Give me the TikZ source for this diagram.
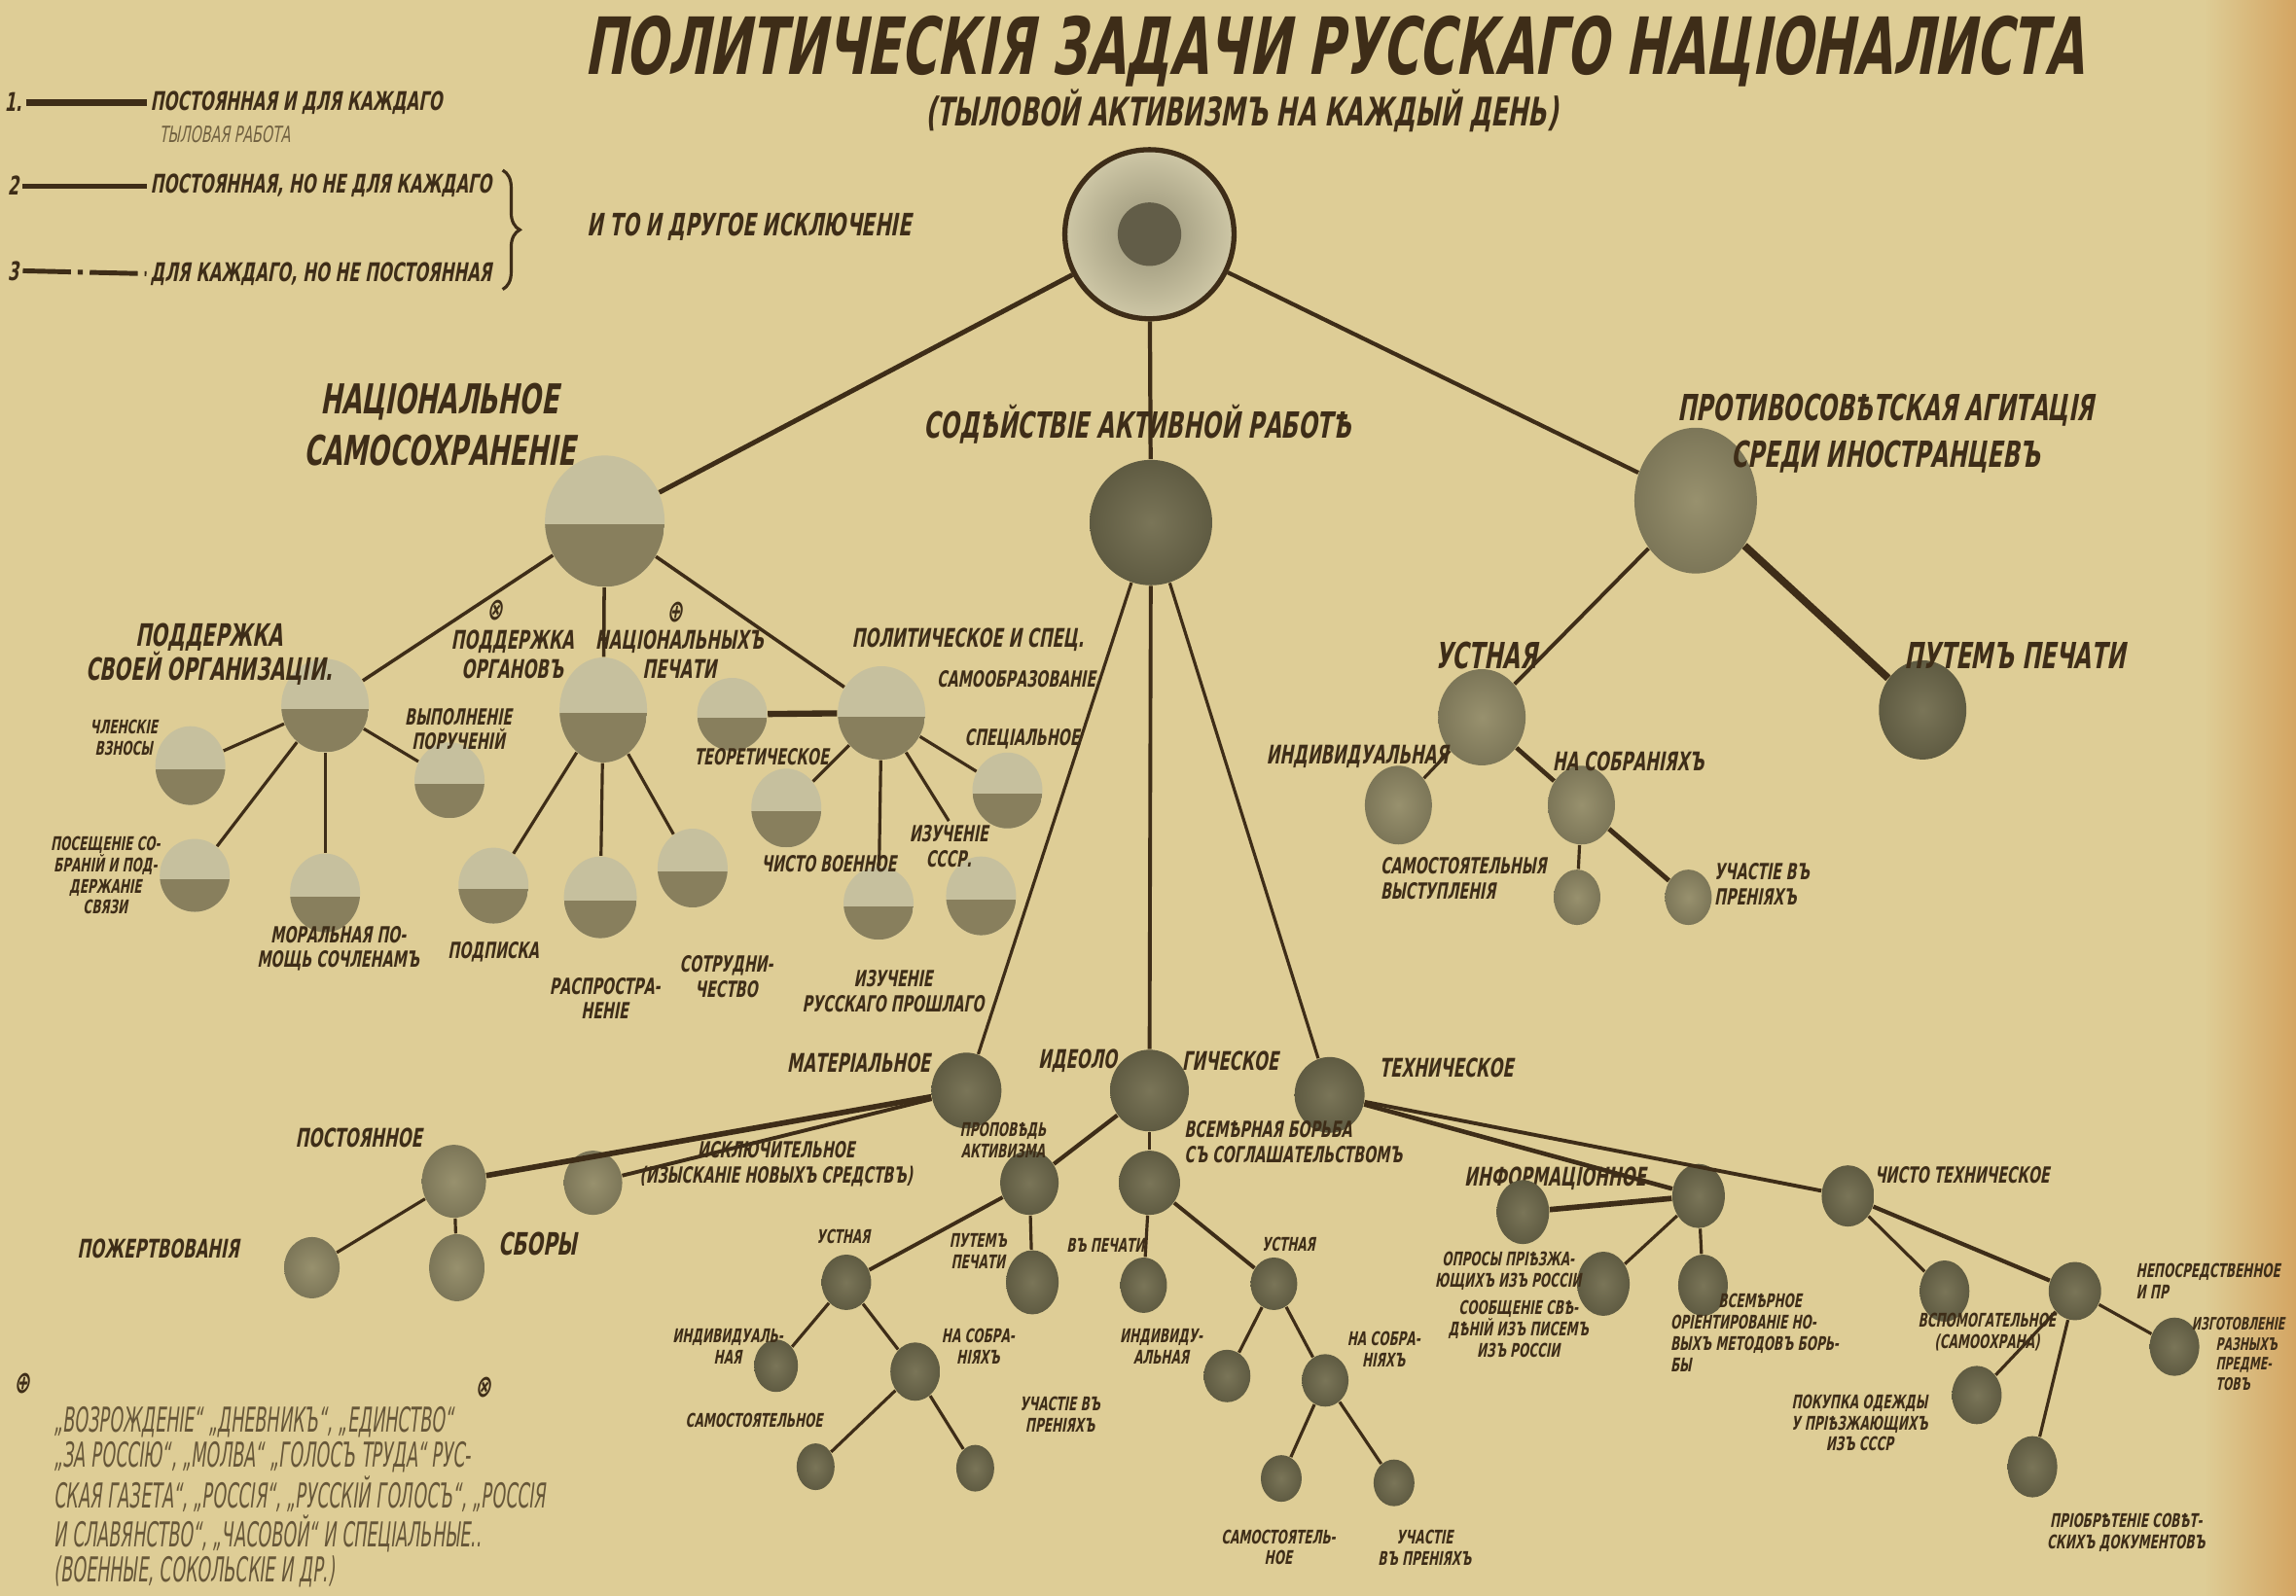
\documentclass[tikz,border=0pt]{standalone}
\usepackage{fontspec}
\setmainfont{DejaVu Sans}
\newfontfamily\handfont{DejaVu Sans}[FakeStretch=0.62, FakeSlant=0.18]
\newfontfamily\ttlfont{DejaVu Sans}[FakeStretch=0.63, FakeSlant=0.18]
\newfontfamily\fnfont{DejaVu Sans}[FakeStretch=0.5, FakeSlant=0.12]
\usepackage{tikz}
\usetikzlibrary{shapes,arrows,positioning,calc,decorations.pathreplacing}
\definecolor{paper}{RGB}{222,205,150}
\definecolor{paperedge}{RGB}{212,165,98}
\definecolor{ink}{RGB}{62,45,24}
\definecolor{inklight}{RGB}{112,96,64}
\definecolor{ballin}{RGB}{122,117,88}
\definecolor{ballout}{RGB}{95,91,66}
\definecolor{palein}{RGB}{152,145,110}
\definecolor{paleout}{RGB}{124,118,88}
\definecolor{halflight}{RGB}{198,192,158}
\definecolor{halfdark}{RGB}{136,127,93}
\definecolor{rootin}{RGB}{150,145,118}
\definecolor{rootout}{RGB}{206,199,166}
\definecolor{corecol}{RGB}{98,93,72}
\tikzset{
    lbl/.style={inner sep=1pt, text=ink, align=center},
    fT/.style={font=\ttlfont\bfseries\fontsize{23}{25}\selectfont},
    fSub/.style={font=\handfont\bfseries\fontsize{11.5}{12.5}\selectfont},
    fA/.style={font=\handfont\bfseries\fontsize{12}{15}\selectfont},
    fB/.style={font=\handfont\bfseries\fontsize{10.5}{13.5}\selectfont},
    fC/.style={font=\handfont\bfseries\fontsize{9}{10}\selectfont},
    fD/.style={font=\handfont\bfseries\fontsize{7.5}{8.5}\selectfont},
    fE/.style={font=\handfont\bfseries\fontsize{6.5}{7.3}\selectfont},
    fF/.style={font=\handfont\bfseries\fontsize{5.5}{6.2}\selectfont},
    fN/.style={font=\fnfont\fontsize{10}{10.2}\selectfont},
    sz/.style 2 args={ellipse, inner sep=0pt, minimum width=#1*0.85pt, minimum height=#2*0.85pt},
    solidball/.style={shading=radial, inner color=ballin, outer color=ballout},
    paleball/.style={shading=radial, inner color=palein, outer color=paleout},
    halfball/.style={fill=halflight,
        path picture={\fill[halfdark] ([yshift=-1pt]path picture bounding box.west) rectangle (path picture bounding box.south east);}},
    link/.style={draw=ink, line width=#1},
    link/.default=0.9pt
}

\begin{document}
\begin{tikzpicture}[x=0.015cm, y=-0.015cm, node distance=0.2cm]
\useasboundingbox (0,0) rectangle (1568,1090);
\fill[paper] (0,0) rectangle (1568,1090);
\shade[left color=paper, right color=paperedge] (1505,0) rectangle (1568,1090);

% Title
\node[lbl, fT, inner sep=0pt] (title) at (911,35) {ПОЛИТИЧЕСКІЯ ЗАДАЧИ РУССКАГО НАЦІОНАЛИСТА};
\node[lbl, fSub, inner sep=0pt] (subtitle) at (848,76) {(ТЫЛОВОЙ АКТИВИЗМЪ НА КАЖДЫЙ ДЕНЬ)};

% Legend
\node[lbl, fD] (n1) at (9,70) {1.};
\node[lbl, fD, anchor=west] (t1) at (100,70) {ПОСТОЯННАЯ И ДЛЯ КАЖДАГО};
\node[lbl, fD, anchor=west, text=inklight, font=\handfont\fontsize{6.5}{7}\selectfont] (t1b) at (106,92) {ТЫЛОВАЯ РАБОТА};
\node[lbl, fD] (n2) at (9,127) {2};
\node[lbl, fD, anchor=west] (t2) at (100,127) {ПОСТОЯННАЯ, НО НЕ ДЛЯ КАЖДАГО};
\node[lbl, fD] (n3) at (9,185) {3};
\node[lbl, fD, anchor=west] (t3) at (100,187) {ДЛЯ КАЖДАГО, НО НЕ ПОСТОЯННАЯ};
\node[lbl, fC, anchor=west] (t23) at (398,155) {И ТО И ДРУГОЕ ИСКЛЮЧЕНІЕ};
\draw[link=2pt] (n1.east) -- (t1.west);
\draw[link=1.4pt] (n2.east) -- (t2.west);
\draw[link=1.4pt, dash pattern=on 14pt off 2pt on 1.5pt off 2pt] (n3.east) -- (t3.west);
\draw[ink, line width=0.9pt, decorate, decoration={brace, amplitude=5pt}]
    ([xshift=2pt]t3.east |- t2.north) -- ([xshift=2pt]t3.south east);

% Root
\node[circle, draw=ink, line width=1.5pt, minimum size=49.3pt, inner sep=0pt,
      shading=radial, inner color=rootin, outer color=rootout] (root) at (785,160) {};
\node[circle, inner sep=0pt, minimum size=18.5pt, fill=corecol] (core) at (root) {};

% Level 1
\node[halfball, sz={41}{45}] (nat) at (413,356) {};
\node[solidball, sz={42}{43}] (sod) at (786,357) {};
\node[paleball, sz={42}{50}] (anti) at (1158,342) {};
\node[lbl, fA] (lnat) at (300,290) {НАЦІОНАЛЬНОЕ\\САМОСОХРАНЕНІЕ};
\node[lbl, fB] (lsod) at (777,290) {СОДѢЙСТВІЕ АКТИВНОЙ РАБОТѢ};
\node[lbl, fB] (lanti) at (1288,296) {ПРОТИВОСОВѢТСКАЯ АГИТАЦІЯ\\СРЕДИ ИНОСТРАНЦЕВЪ};

% Национальное самосохраненie
\node[halfball, sz={30}{32}] (podd) at (222,482) {};
\node[halfball, sz={30}{36}] (org) at (412,485) {};
\node[halfball, sz={30}{32}] (pol) at (602,487) {};
\node[lbl, fC] (lpodd) at (143,447) {ПОДДЕРЖКА\\СВОЕЙ ОРГАНИЗАЦІИ.};
\node[lbl, fD] (lorga) at (350,447) {ПОДДЕРЖКА\\ОРГАНОВЪ};
\node[lbl, fD] (lorgb) at (464,447) {НАЦІОНАЛЬНЫХЪ\\ПЕЧАТИ};
\node[lbl, fC] (marka) at (338,417) {⊗};
\node[lbl, fC] (markb) at (461,418) {⊕};
\node[lbl, fD] (lpol) at (661,437) {ПОЛИТИЧЕСКОЕ И СПЕЦ.};
\node[lbl, fE] (lpolb) at (694,464) {САМООБРАЗОВАНІЕ};

\node[halfball, sz={24}{27}] (chlen) at (130,523) {};
\node[halfball, sz={24}{25}] (poseshch) at (133,598) {};
\node[halfball, sz={24}{27}] (moral) at (222,610) {};
\node[halfball, sz={24}{26}] (vypoln) at (307,533) {};
\node[lbl, fF, left=1pt of chlen.north west] (lchlen) {ЧЛЕНСКІЕ\\ВЗНОСЫ};
\node[lbl, fF] (lposeshch) at (72,598) {ПОСЕЩЕНІЕ СО-\\БРАНІЙ И ПОД-\\ДЕРЖАНІЕ\\СВЯЗИ};
\node[lbl, fE] (lmoral) at (231,648) {МОРАЛЬНАЯ ПО-\\МОЩЬ СОЧЛЕНАМЪ};
\node[lbl, fE] (lvypoln) at (313,498) {ВЫПОЛНЕНІЕ\\ПОРУЧЕНІЙ};

\node[halfball, sz={24}{26}] (podpiska) at (337,605) {};
\node[halfball, sz={25}{28}] (rasprostr) at (410,613) {};
\node[halfball, sz={24}{27}] (sotrudn) at (473,593) {};
\node[lbl, fE, below=4pt of podpiska] (lpodpiska) {ПОДПИСКА};
\node[lbl, fE] (lrasprostr) at (413,682) {РАСПРОСТРА-\\НЕНІЕ};
\node[lbl, fE] (lsotrudn) at (496,667) {СОТРУДНИ-\\ЧЕСТВО};

\node[halfball, sz={24}{25}] (teor) at (500,488) {};
\node[halfball, sz={24}{27}] (voen) at (537,552) {};
\node[halfball, sz={24}{25}] (istor) at (600,617) {};
\node[halfball, sz={24}{27}] (sssr) at (670,612) {};
\node[halfball, sz={24}{26}] (spec) at (688,540) {};
\node[lbl, fE] (lteor) at (520,517) {ТЕОРЕТИЧЕСКОЕ};
\node[lbl, fE] (lvoen) at (566,590) {ЧИСТО ВОЕННОЕ};
\node[lbl, fE] (listor) at (610,677) {ИЗУЧЕНІЕ\\РУССКАГО ПРОШЛАГО};
\node[lbl, fE] (lsssr) at (648,578) {ИЗУЧЕНІЕ\\СССР.};
\node[lbl, fE] (lspec) at (698,505) {СПЕЦІАЛЬНОЕ};

% Содействie активной работе
\node[solidball, sz={24}{26}] (mat) at (660,745) {};
\node[solidball, sz={27}{28}] (ideo) at (785,745) {};
\node[solidball, sz={24}{26}] (tech) at (908,748) {};
\node[lbl, fD, left=2pt of mat.north west] (lmat) {МАТЕРІАЛЬНОЕ};
\node[lbl, fD, left=0pt of ideo.north west] (lideoa) {ИДЕОЛО};
\node[lbl, fD, right=0pt of ideo.north east] (lideob) {ГИЧЕСКОЕ};
\node[lbl, fD, right=6pt of tech.north east] (ltech) {ТЕХНИЧЕСКОЕ};

\node[paleball, sz={22}{25}] (post) at (310,807) {};
\node[paleball, sz={20}{22}] (iskl) at (405,808) {};
\node[paleball, sz={19}{21}] (pozh) at (213,866) {};
\node[paleball, sz={19}{23}] (sbory) at (312,866) {};
\node[lbl, fD] (lpost) at (245,777) {ПОСТОЯННОЕ};
\node[lbl, fE] (liskl) at (530,795) {ИСКЛЮЧИТЕЛЬНОЕ\\(ИЗЫСКАНІЕ НОВЫХЪ СРЕДСТВЪ)};
\node[lbl, fD] (lpozh) at (108,853) {ПОЖЕРТВОВАНІЯ};
\node[lbl, fC, right=5pt of sbory.north east] (lsbory) {СБОРЫ};

\node[solidball, sz={20}{22}] (propov) at (703,808) {};
\node[solidball, sz={21}{22}] (vsem) at (785,808) {};
\node[lbl, fF] (lpropov) at (685,779) {ПРОПОВѢДЬ\\АКТИВИЗМА};
\node[lbl, fE, align=left, anchor=west] (lvsem) at (806,780) {ВСЕМѢРНАЯ БОРЬБА\\СЪ СОГЛАШАТЕЛЬСТВОМЪ};

\node[solidball, sz={17}{19}] (usta) at (578,876) {};
\node[solidball, sz={18}{22}] (pecha) at (705,876) {};
\node[solidball, sz={15}{18}] (inda) at (530,933) {};
\node[solidball, sz={17}{20}] (sobra) at (625,937) {};
\node[solidball, sz={13}{16}] (sama) at (557,1002) {};
\node[solidball, sz={13}{16}] (prena) at (666,1003) {};
\node[lbl, fF] (lusta) at (576,845) {УСТНАЯ};
\node[lbl, fF] (lpecha) at (668,855) {ПУТЕМЪ\\ПЕЧАТИ};
\node[lbl, fF] (linda) at (497,920) {ИНДИВИДУАЛЬ-\\НАЯ};
\node[lbl, fF] (lsobra) at (668,920) {НА СОБРА-\\НІЯХЪ};
\node[lbl, fF] (lsama) at (515,970) {САМОСТОЯТЕЛЬНОЕ};
\node[lbl, fF] (lprena) at (724,966) {УЧАСТІЕ ВЪ\\ПРЕНІЯХЪ};

\node[solidball, sz={16}{19}] (vpech) at (781,878) {};
\node[solidball, sz={16}{18}] (ustb) at (870,877) {};
\node[solidball, sz={16}{18}] (indb) at (838,940) {};
\node[solidball, sz={16}{18}] (sobrb) at (905,943) {};
\node[solidball, sz={14}{16}] (samb) at (875,1010) {};
\node[solidball, sz={14}{16}] (prenb) at (952,1013) {};
\node[lbl, fF] (lvpech) at (755,851) {ВЪ ПЕЧАТИ};
\node[lbl, fF] (lustb) at (880,850) {УСТНАЯ};
\node[lbl, fF] (lindb) at (793,920) {ИНДИВИДУ-\\АЛЬНАЯ};
\node[lbl, fF] (lsobrb) at (945,922) {НА СОБРА-\\НІЯХЪ};
\node[lbl, fF] (lsamb) at (873,1057) {САМОСТОЯТЕЛЬ-\\НОЕ};
\node[lbl, fF] (lprenb) at (973,1057) {УЧАСТІЕ\\ВЪ ПРЕНІЯХЪ};

\node[solidball, sz={18}{22}] (inform) at (1160,817) {};
\node[solidball, sz={18}{21}] (chisto) at (1262,817) {};
\node[lbl, fD] (linform) at (1062,805) {ИНФОРМАЦІОННОЕ};
\node[lbl, fE] (lchisto) at (1340,803) {ЧИСТО ТЕХНИЧЕСКОЕ};

\node[solidball, sz={18}{22}] (opros) at (1040,828) {};
\node[solidball, sz={18}{22}] (soobshch) at (1095,877) {};
\node[solidball, sz={17}{21}] (orient) at (1163,878) {};
\node[lbl, fF] (lopros) at (1030,868) {ОПРОСЫ ПРІѢЗЖА-\\ЮЩИХЪ ИЗЪ РОССІИ};
\node[lbl, fF] (lsoobshch) at (1037,908) {СООБЩЕНІЕ СВѢ-\\ДѢНІЙ ИЗЪ ПИСЕМЪ\\ИЗЪ РОССІИ};
\node[lbl, fF, align=left, anchor=north west] (lorient) at (1138,881)
    {\hspace{14pt}ВСЕМѢРНОЕ\\ОРІЕНТИРОВАНІЕ НО-\\ВЫХЪ МЕТОДОВЪ БОРЬ-\\БЫ};

\node[solidball, sz={17}{21}] (vspom) at (1328,882) {};
\node[solidball, sz={18}{20}] (neposr) at (1417,882) {};
\node[solidball, sz={17}{20}] (pokupka) at (1350,953) {};
\node[solidball, sz={17}{21}] (priobr) at (1388,1002) {};
\node[solidball, sz={17}{20}] (izgot) at (1485,920) {};
\node[lbl, fF] (lvspom) at (1357,910) {ВСПОМОГАТЕЛЬНОЕ\\(САМООХРАНА)};
\node[lbl, fF, align=left, anchor=west] (lneposr) at (1456,875) {НЕПОСРЕДСТВЕННОЕ\\И ПР};
\node[lbl, fF] (lpokupka) at (1270,972) {ПОКУПКА ОДЕЖДЫ\\У ПРІѢЗЖАЮЩИХЪ\\ИЗЪ СССР};
\node[lbl, fF] (lpriobr) at (1452,1047) {ПРІОБРѢТЕНІЕ СОВѢТ-\\СКИХЪ ДОКУМЕНТОВЪ};
\node[lbl, fF, align=left, anchor=west, font=\handfont\bfseries\fontsize{5}{5.8}\selectfont] (lizgot) at (1494,925)
    {ИЗГОТОВЛЕНІЕ\\\hspace{7pt}РАЗНЫХЪ\\\hspace{7pt}ПРЕДМЕ-\\\hspace{7pt}ТОВЪ};

% Противосоветская агитацiя
\node[paleball, sz={30}{33}] (ustc) at (1012,490) {};
\node[solidball, sz={30}{34}] (pechc) at (1313,485) {};
\node[paleball, sz={23}{27}] (indc) at (955,550) {};
\node[paleball, sz={23}{27}] (sobrc) at (1080,550) {};
\node[paleball, sz={16}{19}] (samc) at (1077,613) {};
\node[paleball, sz={16}{19}] (prenc) at (1153,613) {};
\node[lbl, fB] (lustc) at (1015,448) {УСТНАЯ};
\node[lbl, fB] (lpechc) at (1376,448) {ПУТЕМЪ ПЕЧАТИ};
\node[lbl, fD] (lindc) at (927,517) {ИНДИВИДУАЛЬНАЯ};
\node[lbl, fD] (lsobrc) at (1112,520) {НА СОБРАНІЯХЪ};
\node[lbl, fE, align=left, anchor=west] (lsamc) at (940,600) {САМОСТОЯТЕЛЬНЫЯ\\ВЫСТУПЛЕНІЯ};
\node[lbl, fE, align=left, anchor=west] (lprenc) at (1168,604) {УЧАСТІЕ ВЪ\\ПРЕНІЯХЪ};

% Footnote
\node[lbl, fC] (notea) at (15,945) {⊕};
\node[lbl, fC] (noteb) at (330,948) {⊗};
\node[lbl, fN, text=inklight!80!ink, align=left, anchor=north west] (note) at (34,958)
    {„ВОЗРОЖДЕНІЕ“ „ДНЕВНИКЪ“, „ЕДИНСТВО“\\
     „ЗА РОССІЮ“, „МОЛВА“ „ГОЛОСЪ ТРУДА“ РУС-\\
     СКАЯ ГАЗЕТА“, „РОССІЯ“, „РУССКІЙ ГОЛОСЪ“, „РОССІЯ\\
     И СЛАВЯНСТВО“, „ЧАСОВОЙ“ И СПЕЦІАЛЬНЫЕ..\\
     (ВОЕННЫЕ, СОКОЛЬСКІЕ И ДР.)};

% Links
\draw[link=1.4pt] (root) -- (nat);
\draw[link=1.2pt] (root) -- (sod);
\draw[link=1.2pt] (root) -- (anti);

\draw[link=1pt] (nat) -- (podd);
\draw[link=1pt] (nat) -- (org);
\draw[link=1pt] (nat) -- (pol);
\draw[link] (podd) -- (chlen);
\draw[link] (podd) -- (poseshch);
\draw[link] (podd) -- (moral);
\draw[link] (podd) -- (vypoln);
\draw[link] (org) -- (podpiska);
\draw[link] (org) -- (rasprostr);
\draw[link] (org) -- (sotrudn);
\draw[link=1.8pt] (pol) -- (teor);
\draw[link] (pol) -- (voen);
\draw[link] (pol) -- (istor);
\draw[link] (pol) -- (lsssr.north);
\draw[link] (pol) -- (spec);

\draw[link] (sod) -- (mat);
\draw[link=1.1pt] (sod) -- (ideo);
\draw[link] (sod) -- (tech);
\draw[link=1.6pt] (mat) -- (post);
\draw[link=1.1pt] (mat) -- (iskl);
\draw[link] (post) -- (pozh);
\draw[link] (post) -- (sbory);
\draw[link=1.2pt] (ideo) -- (propov);
\draw[link] (ideo) -- (vsem);
\draw[link=1.1pt] (propov) -- (usta);
\draw[link] (propov) -- (pecha);
\draw[link] (usta) -- (inda);
\draw[link] (usta) -- (sobra);
\draw[link] (sobra) -- (sama);
\draw[link] (sobra) -- (prena);
\draw[link] (vsem) -- (vpech);
\draw[link=1.1pt] (vsem) -- (ustb);
\draw[link] (ustb) -- (indb);
\draw[link] (ustb) -- (sobrb);
\draw[link] (sobrb) -- (samb);
\draw[link] (sobrb) -- (prenb);
\draw[link=1.3pt] (tech) -- (inform);
\draw[link=1.1pt] (tech) -- (chisto);
\draw[link=1.6pt] (inform) -- (opros);
\draw[link] (inform) -- (soobshch);
\draw[link] (inform) -- (orient);
\draw[link] (chisto) -- (vspom);
\draw[link=1.2pt] (chisto) -- (neposr);
\draw[link] (neposr) -- (pokupka);
\draw[link] (neposr) -- (priobr);
\draw[link] (neposr) -- (izgot);

\draw[link=1.1pt] (anti) -- (ustc);
\draw[link=2.2pt] (anti) -- (pechc);
\draw[link] (ustc) -- (indc);
\draw[link=1.3pt] (ustc) -- (sobrc);
\draw[link] (sobrc) -- (samc);
\draw[link=1.4pt] (sobrc) -- (prenc);
\end{tikzpicture}
\end{document}
